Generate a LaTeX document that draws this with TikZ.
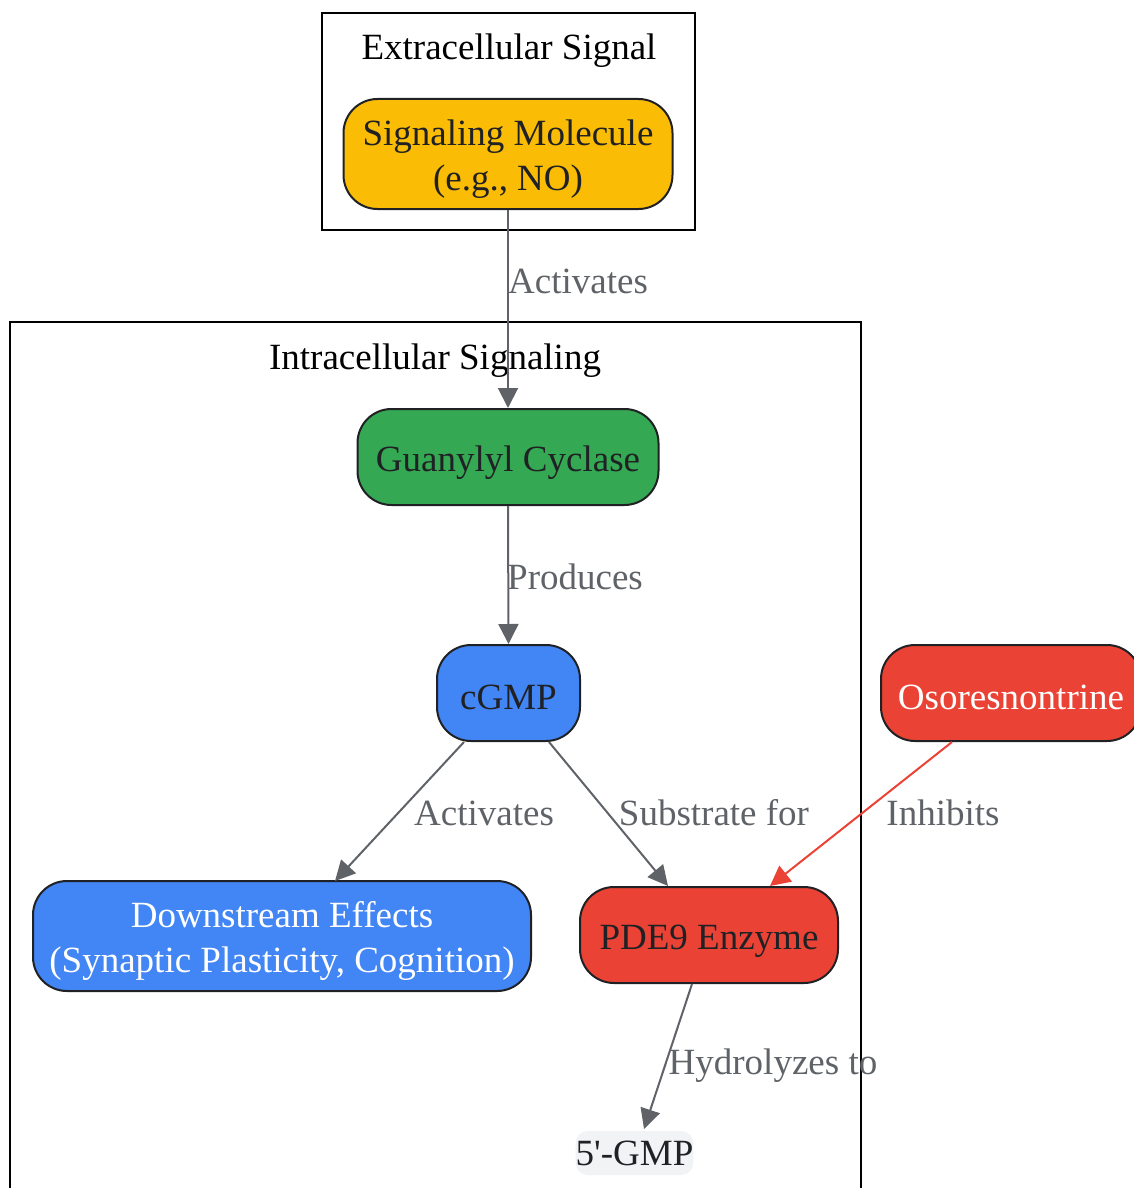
\documentclass[tikz,border=0pt]{standalone}
\usepackage{fontspec}
\setmainfont{Liberation Serif}
\usetikzlibrary{arrows.meta}
\definecolor{gyellow}{HTML}{FBBC05}
\definecolor{ggreen}{HTML}{34A853}
\definecolor{gblue}{HTML}{4285F4}
\definecolor{gred}{HTML}{EA4335}
\definecolor{ggray}{HTML}{F1F3F4}
\definecolor{gdark}{HTML}{202124}
\definecolor{gedge}{HTML}{5F6368}
\newcommand\mystrut{\rule[-2pt]{0pt}{20pt}}
\tikzset{
  box/.style={draw=gdark, line width=1pt, rounded corners=17pt, align=center,
    inner sep=0pt, font=\fontsize{18.5}{22.5}\selectfont, text=gdark},
  cluster/.style={draw=black, line width=1pt},
  ctitle/.style={font=\fontsize{18.5}{22.5}\selectfont, text=black},
  edge/.style={draw=gedge, line width=1pt, -{Triangle[length=10pt,width=10pt]}},
  lbl/.style={font=\fontsize{18.5}{22.5}\selectfont, text=gedge, inner sep=0pt},
}
\begin{document}
\begin{tikzpicture}[x=0.5pt,y=-0.5pt]
\useasboundingbox (0,0) rectangle (1134,1188);
% clusters
\draw[cluster] (322,13) rectangle (695,230);
\node[ctitle] (t1) at (509,51) {Extracellular Signal};
\draw[cluster] (10,322) rectangle (861,1200);
\node[ctitle] (t2) at (435,361) {Intracellular Signaling};
% nodes
\node[box, fill=gyellow, minimum width=164.5pt, minimum height=55pt] (sig) at (508,154) {\mystrut Signaling Molecule\\\mystrut(e.g., NO)};
\node[box, fill=ggreen, minimum width=150.5pt, minimum height=48pt] (gc) at (508,457) {\mystrut Guanylyl Cyclase};
\node[box, fill=gblue, minimum width=71.5pt, minimum height=48pt] (cgmp) at (508.5,693) {\mystrut cGMP};
\node[box, fill=gblue, text=white, minimum width=249pt, minimum height=55pt] (down) at (282,936) {\mystrut Downstream Effects\\\mystrut(Synaptic Plasticity, Cognition)};
\node[box, fill=gred, minimum width=129pt, minimum height=48pt] (pde) at (709,935) {\mystrut PDE9 Enzyme};
\node[box, fill=gred, text=white, minimum width=130pt, minimum height=48pt] (oso) at (1011,693) {\mystrut Osoresnontrine};
\node[box, draw=none, fill=ggray, rounded corners=6pt, minimum width=57pt, minimum height=22pt] (gmp) at (634.5,1153) {5\textquotesingle-GMP};
% edges
\draw[edge] (sig.south) -- (gc.north) node[lbl, at={(578,281)}] {Activates};
\draw[edge] (gc.south) -- (cgmp.north) node[lbl, at={(575,577)}] {Produces};
\draw[edge] (cgmp.south west) ++(28,0) coordinate (c1) -- (335,881) coordinate (d1)
  node[lbl, at={(484,813)}] {Activates};
\draw[edge] (cgmp.south east) ++(-32,0) coordinate (c2) -- (668,886) coordinate (p1)
  node[lbl, at={(714,813)}] {Substrate for};
\draw[edge, draw=gred] (oso.south west) ++(72,0) coordinate (o1) -- (770,886) coordinate (p2)
  node[lbl, at={(943,813)}] {Inhibits};
\draw[edge] (pde.south) ++(-17,0) coordinate (p3) -- (644,1129) coordinate (g1)
  node[lbl, at={(773,1066)}] {Hydrolyzes to};
\end{tikzpicture}
\end{document}
